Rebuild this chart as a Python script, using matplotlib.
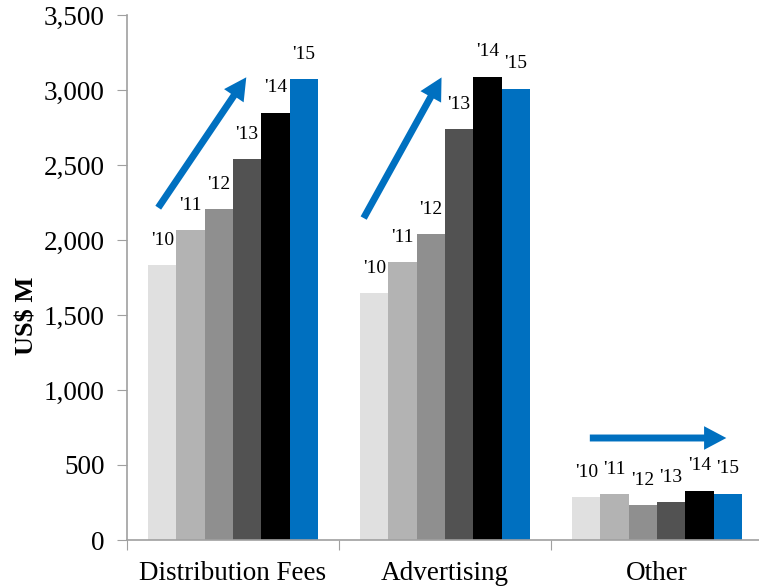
import matplotlib
matplotlib.use("Agg")
import matplotlib.pyplot as plt
import numpy as np
from matplotlib.patches import FancyArrowPatch

plt.rcParams["font.family"] = ["Liberation Serif", "DejaVu Serif"]

categories = ["Distribution Fees", "Advertising", "Other"]
years = ["'10", "'11", "'12", "'13", "'14", "'15"]
values = {
    "'10": [1830, 1645, 287],
    "'11": [2067, 1851, 304],
    "'12": [2207, 2038, 233],
    "'13": [2538, 2740, 251],
    "'14": [2849, 3089, 329],
    "'15": [3073, 3009, 309],
}
colors = ["#E0E0E0", "#B3B3B3", "#8F8F8F", "#525252", "#000000", "#0070C0"]

# year labels sit a fixed distance above each bar
label_offset = 165

fig = plt.figure(figsize=(7.59, 5.86), dpi=100)
ax = fig.add_axes([127 / 759, 46 / 586, 636 / 759, 525 / 586])

x = np.arange(len(categories))
width = 0.8 / len(years)
for i, yr in enumerate(years):
    pos = x - 0.4 + width * (i + 0.5)
    ax.bar(pos, values[yr], width=width, color=colors[i], linewidth=0)
    for px, v in zip(pos, values[yr]):
        ax.text(px, v + label_offset, yr, ha="center", va="center", fontsize=14)

ax.set_xlim(-0.5, 2.5)
ax.set_ylim(0, 3500)
ax.set_yticks(range(0, 3501, 500))
ax.yaxis.set_major_formatter(matplotlib.ticker.StrMethodFormatter("{x:,.0f}"))
ax.set_xticks([-0.5, 0.5, 1.5, 2.5])
ax.set_xticklabels([])
ax.set_xticks(x, minor=True)
ax.set_xticklabels(categories, minor=True, fontsize=19.5)
ax.tick_params(axis="x", which="minor", length=0, pad=15)
ax.tick_params(axis="x", which="major", length=7, color="#A0A0A0", direction="out")
ax.tick_params(axis="y", length=7, color="#A0A0A0", labelsize=19.5, pad=9)

for side in ["top", "right"]:
    ax.spines[side].set_visible(False)
for side in ["left", "bottom"]:
    ax.spines[side].set_color("#A0A0A0")
    ax.spines[side].set_linewidth(1.2)

fig.text(27 / 759, 1 - 316 / 586, "US$ M", rotation=90, ha="center", va="center",
         fontsize=19, fontweight="bold")

# trend arrows
arrows = [((-0.36, 2200), (0.07, 3100)),
          ((0.61, 2130), (0.99, 3100)),
          ((1.67, 680), (2.34, 680))]
for start, end in arrows:
    ax.add_patch(FancyArrowPatch(
        start, end,
        arrowstyle="simple,head_length=16,head_width=17,tail_width=5",
        mutation_scale=1, color="#0070C0", linewidth=0, clip_on=False))

fig.savefig("out.png", dpi=100)
